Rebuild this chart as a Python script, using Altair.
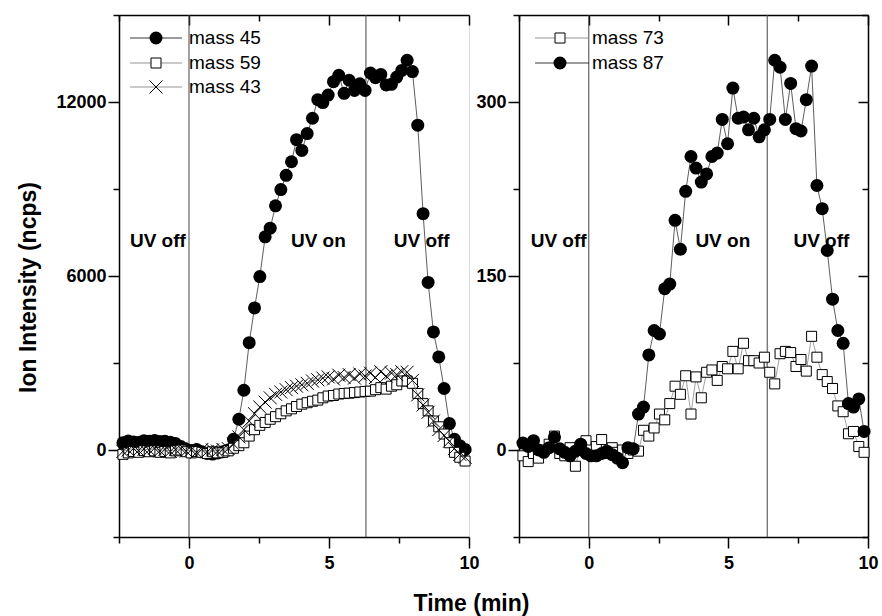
import altair as alt
import pandas as pd

# ---------------- data ----------------
time_min = [-2.36, -2.17, -1.98, -1.80, -1.61, -1.42, -1.23, -1.04, -0.86, -0.67,
            -0.48, -0.29, -0.10, 0.08, 0.27, 0.46, 0.65, 0.84, 1.02, 1.21,
            1.40, 1.59, 1.78, 1.96, 2.15, 2.34, 2.53, 2.72, 2.90, 3.09,
            3.28, 3.47, 3.66, 3.84, 4.03, 4.22, 4.41, 4.60, 4.78, 4.97,
            5.16, 5.35, 5.54, 5.72, 5.91, 6.10, 6.29, 6.48, 6.66, 6.85,
            7.04, 7.23, 7.42, 7.60, 7.79, 7.98, 8.17, 8.36, 8.54, 8.73,
            8.92, 9.11, 9.30, 9.48, 9.67, 9.86]

mass45 = [250, 310, 280, 260, 320, 300, 330, 290, 300, 270,
          220, 120, 30, -20, 20, -60, -120, -140, -100, -60,
          0, 370, 1060, 2060, 3700, 4900, 5980, 7350, 7650, 8420,
          8980, 9470, 9940, 10700, 10330, 10910, 11440, 12080, 11980, 12240,
          12700, 12920, 12300, 12750, 12400, 12630, 12400, 13000, 12840, 12950,
          12590, 12610, 12860, 13090, 13440, 13050, 11200, 8150, 5780, 4070,
          3210, 2120, 910, 370, 150, 20]

mass59 = [-150, -100, -50, -80, -20, -60, -30, -80, -50, -100,
          -30, 0, -60, -100, -50, -80, -120, -60, -100, -80,
          -30, 60, 150, 250, 480, 700, 850, 950, 1060, 1150,
          1250, 1350, 1420, 1500, 1580, 1630, 1680, 1720, 1800, 1860,
          1880, 1930, 1950, 1960, 1980, 2000, 2020, 2030, 2080, 2150,
          2100, 2200, 2250, 2380, 2380, 2300, 1950, 1600, 1350, 1000,
          800, 550, 250, -80, -250, -380]

mass43 = [-50, 0, 50, -20, 30, 0, 60, -30, 20, -50,
          10, 50, -40, 0, -80, 20, -60, 0, -40, 20,
          50, 200, 450, 700, 1000, 1250, 1480, 1650, 1800, 1920,
          2000, 2080, 2150, 2200, 2250, 2300, 2380, 2420, 2480, 2520,
          2450, 2580, 2500, 2600, 2480, 2620, 2550, 2650, 2500, 2700,
          2550, 2650, 2600, 2700, 2680, 2400, 1900, 1550, 1300, 1000,
          700, 500, 300, 50, -150, -250]

mass73 = [-5, -10, -3, -7, 0, 5, 12, -3, -5, 2,
          -14, 3, 8, 0, 3, 9, -3, 2, -2, 0,
          -3, 0, -1, 17, 12, 19, 31, 26, 40, 55,
          48, 64, 31, 63, 45, 67, 69, 60, 72, 70,
          85, 70, 92, 77, 77, 75, 80, 67, 57, 83,
          85, 84, 72, 78, 68, 98, 80, 65, 59, 53,
          38, 33, 14, 16, 3, -2]

mass87 = [6, 3, 8, 0, -2, 2, 11, 1, -2, -5,
          -1, 5, -3, -5, -5, -3, -1, -4, -7, -11,
          2, 1, 31, 37, 82, 103, 100, 139, 143, 198,
          173, 223, 253, 243, 231, 238, 253, 256, 285, 264,
          312, 286, 287, 276, 286, 270, 276, 285, 336, 330,
          285, 316, 277, 275, 302, 331, 228, 208, 172, 130,
          103, 92, 40, 37, 44, 16]

left_names = ["mass 45", "mass 59", "mass 43"]
right_names = ["mass 73", "mass 87"]

uv_text = ["UV off", "UV on", "UV off"]
uv_text_t_left = [-1.11, 4.62, 8.31]
uv_text_v_left = [7200, 7200, 7200]
uv_text_t_right = [-1.08, 4.80, 8.33]
uv_text_v_right = [180, 180, 180]
uv_switch_left = [0, 6.32]
uv_switch_right = [0, 6.39]

x_ticks = [-2.5, 0, 2.5, 5, 7.5, 10]
y_ticks_left = [-3000, 0, 3000, 6000, 9000, 12000, 15000]
y_ticks_right = [-75, 0, 75, 150, 225, 300, 375]
x_domain = [-2.5, 10]
y_domain_left = [-3000, 15000]
y_domain_right = [-75, 375]

# ---------------- styling ----------------
FONT = "Liberation Sans"
W_L, W_R, H = 350, 349, 522

CIRCLE = dict(shape="circle", filled=True, color="black", size=169, opacity=1)
SQUARE = dict(shape="square", filled=True, fill="white", stroke="black",
              strokeWidth=1, size=100, opacity=1)
XMARK = dict(shape="M-1,-1L1,1M-1,1L1,-1", filled=False, stroke="black",
             strokeWidth=1, size=169, opacity=1)


def tsize(test, major, minor):
    return {"condition": {"test": test, "value": major}, "value": minor}


COMMON = dict(domainColor="black", domainWidth=1.5, tickColor="black",
              tickWidth=1.5, grid=False, labelFont=FONT, labelFontSize=18,
              labelFontWeight="bold", labelColor="black", labelOverlap=False,
              labelFlush=False)


def legend_layers(names, styles, line_colors, ys, x0, x1, xm, xt):
    out = []
    one = pd.DataFrame({"k": [0]})
    for name, st, lc, y in zip(names, styles, line_colors, ys):
        base = alt.Chart(one)
        out.append(base.mark_rule(color=lc, strokeWidth=0.9).encode(
            x=alt.value(x0), x2=alt.value(x1), y=alt.value(y)))
        out.append(base.mark_point(**st).encode(x=alt.value(xm), y=alt.value(y)))
        out.append(base.mark_text(align="left", baseline="middle", font=FONT,
                                  fontSize=19, color="black").encode(
            x=alt.value(xt), y=alt.value(y), text=alt.value(name)))
    return out


def make_panel(width, y_domain, y_ticks, y_major, series, uv_switch, uv_t, uv_v,
               legend, y_title, x_title, right_frame):
    xs = alt.Scale(domain=x_domain, nice=False, zero=False)
    ys = alt.Scale(domain=y_domain, nice=False, zero=False)
    xt = "datum.value % 5 === 0"
    yt = f"datum.value % {y_major} === 0"

    bottom_kw = dict(orient="bottom", values=x_ticks, tickSize=tsize(xt, 11, 6),
                     labelExpr=f"{xt} ? datum.label : ''", labelPadding=6, **COMMON)
    if x_title:
        bottom_kw.update(title=x_title, titleFont=FONT, titleFontSize=23,
                         titleFontWeight="bold", titleColor="black",
                         titleX=352, titleY=66, titleAlign="center",
                         titleBaseline="middle")
    else:
        bottom_kw.update(title=None)
    bottom_axis = alt.Axis(**bottom_kw)
    top_axis = alt.Axis(orient="bottom", offset=-H, values=x_ticks,
                        tickSize=tsize(xt, 10, 6), labels=False, title=None, **COMMON)

    left_kw = dict(orient="left", values=y_ticks, format="d",
                   tickSize=tsize(yt, 11, 6),
                   labelExpr=f"{yt} ? datum.label : ''", labelPadding=2, **COMMON)
    if y_title:
        left_kw.update(title=y_title, titleFont=FONT, titleFontSize=23,
                       titleFontWeight="bold", titleColor="black",
                       titleX=-91, titleY=272, titleAngle=270,
                       titleAlign="center", titleBaseline="middle")
    else:
        left_kw.update(title=None)
    left_axis = alt.Axis(**left_kw)

    rules_df = pd.DataFrame({"t": uv_switch})
    layers = [
        alt.Chart(rules_df).mark_rule(color="#444", strokeWidth=1).encode(
            x=alt.X("t:Q", scale=xs, axis=bottom_axis)),
        alt.Chart(rules_df).mark_rule(opacity=0).encode(
            x=alt.X("t:Q", scale=xs, axis=top_axis)),
    ]

    for i, s in enumerate(series):
        df = pd.DataFrame({"t": time_min, "v": s["values"]})
        layers.append(alt.Chart(df).mark_line(color=s["line"], strokeWidth=0.8).encode(
            x=alt.X("t:Q", scale=xs, axis=None),
            y=alt.Y("v:Q", scale=ys, axis=left_axis if i == 0 else None)))
        layers.append(alt.Chart(df).mark_point(**s["style"]).encode(
            x=alt.X("t:Q", scale=xs, axis=None),
            y=alt.Y("v:Q", scale=ys, axis=None)))

    if right_frame:
        right_axis = alt.Axis(orient="left", offset=-width, values=y_ticks,
                              tickSize=tsize(yt, 10, 6), labels=False, title=None, **COMMON)
        df = pd.DataFrame({"v": y_domain})
        layers.append(alt.Chart(df).mark_rule(opacity=0).encode(
            y=alt.Y("v:Q", scale=ys, axis=right_axis)))

    tdf = pd.DataFrame({"t": uv_t, "v": uv_v, "label": uv_text})
    layers.append(alt.Chart(tdf).mark_text(font=FONT, fontSize=19, fontWeight="bold",
                                           color="black", align="center",
                                           baseline="middle").encode(
        x=alt.X("t:Q", scale=xs, axis=None),
        y=alt.Y("v:Q", scale=ys, axis=None),
        text="label:N"))

    layers += legend
    return alt.layer(*layers).properties(width=width, height=H).resolve_axis(
        x="independent", y="independent")


left_series = [
    {"values": mass45, "style": CIRCLE, "line": "#333"},
    {"values": mass59, "style": SQUARE, "line": "#888"},
    {"values": mass43, "style": XMARK, "line": "#777"},
]
right_series = [
    {"values": mass73, "style": SQUARE, "line": "#888"},
    {"values": mass87, "style": CIRCLE, "line": "#333"},
]

left_legend = legend_layers(left_names, [CIRCLE, SQUARE, XMARK],
                            ["#222", "#888", "#888"], [23, 48, 72], 11, 63, 37, 70)
right_legend = legend_layers(right_names, [SQUARE, CIRCLE],
                             ["#888", "#222"], [23, 48], 16, 70, 41, 73)

left = make_panel(W_L, y_domain_left, y_ticks_left, 6000, left_series,
                  uv_switch_left, uv_text_t_left, uv_text_v_left, left_legend,
                  "Ion Intensity (ncps)", "Time (min)", False)
right = make_panel(W_R, y_domain_right, y_ticks_right, 150, right_series,
                   uv_switch_right, uv_text_t_right, uv_text_v_right, right_legend,
                   None, None, True)

chart = alt.hconcat(left, right, spacing=50, bounds="flush").properties(
    padding={"left": 16, "top": 5, "right": 3, "bottom": 2}
).configure_view(stroke=None).configure(font=FONT)

chart.save("out.html", embed_options={"renderer": "svg", "actions": False})
